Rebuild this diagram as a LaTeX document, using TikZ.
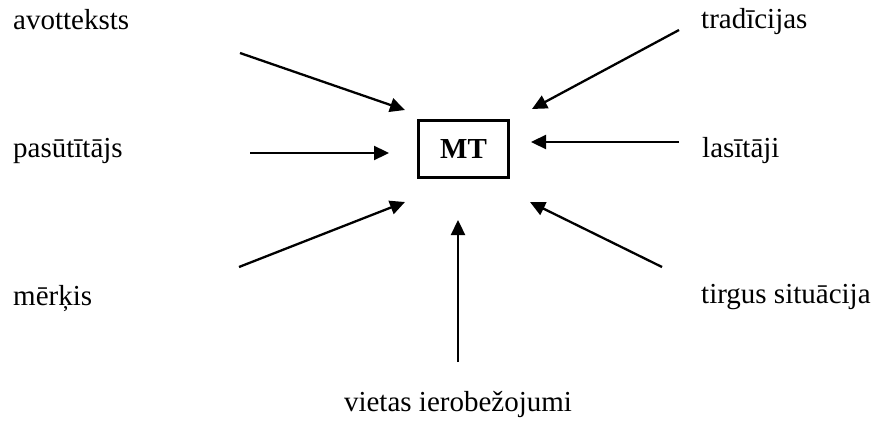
\documentclass[tikz,border=0pt]{standalone}
\usepackage{fontspec}
\setmainfont{Liberation Serif}
\usetikzlibrary{arrows.meta}
\begin{document}
\begin{tikzpicture}[x=1pt,y=-1pt,
  lbl/.style={anchor=base west,inner sep=0pt,font=\fontsize{29}{34}\selectfont},
  arr/.style={line width=2.3pt,-{Triangle[length=15pt,width=14pt]}},
  mtbox/.style={draw,line width=3pt,minimum width=90pt,minimum height=57.5pt,inner sep=0pt,font=\fontsize{29}{34}\selectfont\bfseries}]
\useasboundingbox (0,0) rectangle (872,420);
\node[mtbox] (mt) at (463.5,149) {MT};
\node[lbl] (avo) at (13,30) {avotteksts};
\node[lbl] (pas) at (13,157) {pasūtītājs};
\node[lbl] (mer) at (13,305) {mērķis};
\node[lbl] (tra) at (701,29) {tradīcijas};
\node[lbl] (las) at (702,157) {lasītāji};
\node[lbl] (tir) at (701,303) {tirgus situācija};
\node[anchor=base,inner sep=0pt,font=\fontsize{29}{34}\selectfont] (vie) at (458,411) {vietas ierobežojumi};
\coordinate (s1) at (240,53);  \coordinate (e1) at (405,110);
\coordinate (s2) at (250,153); \coordinate (e2) at (389,153);
\coordinate (s3) at (239,267); \coordinate (e3) at (405,202);
\coordinate (s4) at (458,362); \coordinate (e4) at (458,220);
\coordinate (s5) at (662,267); \coordinate (e5) at (530,202);
\coordinate (s6) at (679,142); \coordinate (e6) at (531,142);
\coordinate (s7) at (679,30);  \coordinate (e7) at (532,109);
\foreach \i in {1,...,7} {\draw[arr] (s\i) -- (e\i);}
\end{tikzpicture}
\end{document}
